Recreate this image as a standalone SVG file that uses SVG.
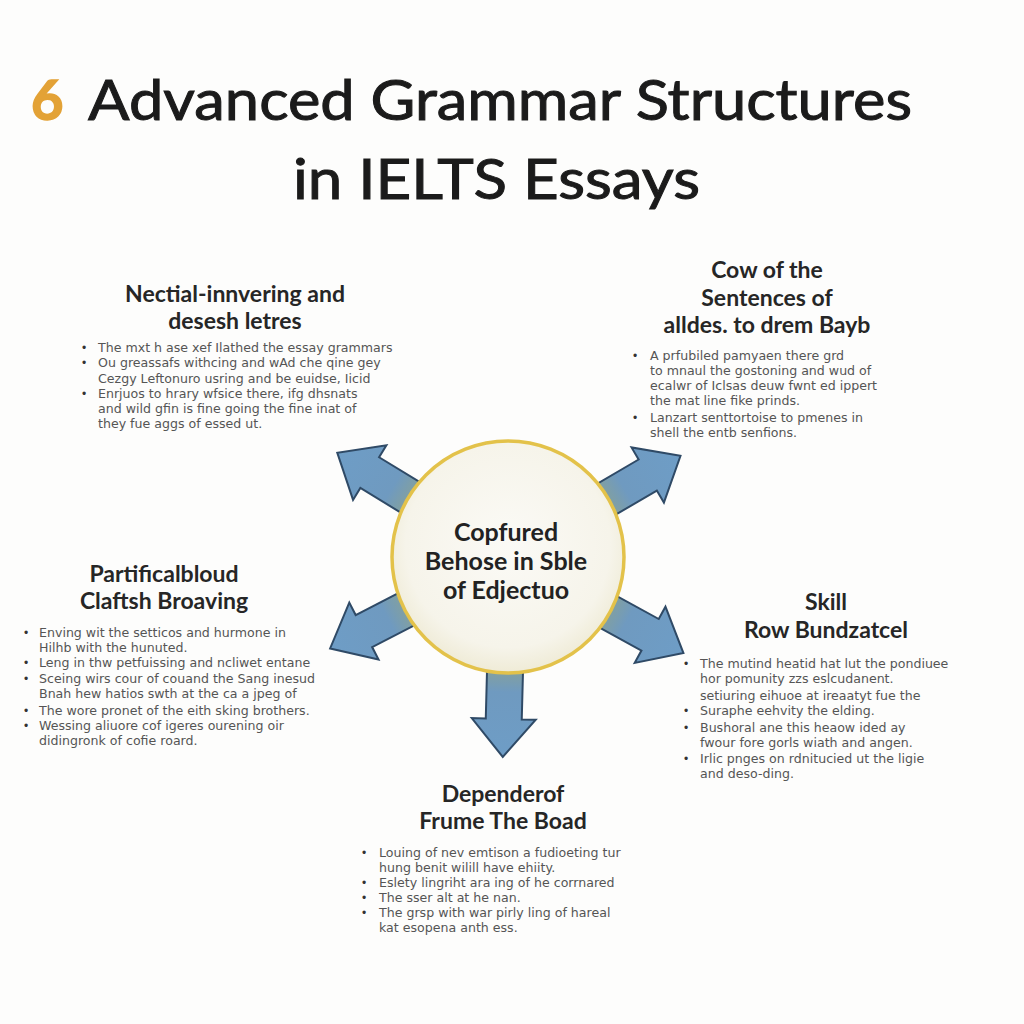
<svg xmlns="http://www.w3.org/2000/svg" width="1024" height="1024" viewBox="0 0 1024 1024">
<defs>
<style>
.title{font-family:Lato,"Liberation Sans",sans-serif;font-size:56px;fill:#1b1b1b;stroke:#1b1b1b;stroke-width:1}
.six{fill:#E3A236;stroke:#E3A236;stroke-width:1.5;font-weight:700}
.head{font-family:Lato,"Open Sans","Liberation Sans",sans-serif;font-weight:700;font-size:23px;fill:#262626;text-anchor:middle}
.ctr{font-family:Lato,"Open Sans","Liberation Sans",sans-serif;font-weight:700;font-size:25px;fill:#222;text-anchor:middle}
.body{font-family:"DejaVu Sans","Liberation Sans",sans-serif;font-size:12.6px;fill:#555}
.bul{font-family:"Liberation Sans",Arial,sans-serif;font-size:12px;fill:#333}
.arrow{fill:url(#ag);stroke:#2F4A66;stroke-width:2;stroke-linejoin:miter}
</style>
<linearGradient id="ag" x1="100" y1="0" x2="200" y2="0" gradientUnits="userSpaceOnUse">
<stop offset="0" stop-color="#8FA48A"/>
<stop offset="0.35" stop-color="#6F9AC0"/>
<stop offset="1" stop-color="#6E9DC6"/>
</linearGradient>
<radialGradient id="cg" cx="0.5" cy="0.45" r="0.55">
<stop offset="0" stop-color="#FBFAF6"/>
<stop offset="0.8" stop-color="#F6F4EA"/>
<stop offset="1" stop-color="#EFEBD6"/>
</radialGradient>
<path id="arr" d="M95,-18 L162,-18 L162,-32 L200,0 L162,32 L162,18 L95,18 Z"/>
</defs>
<rect width="1024" height="1024" fill="#FDFDFC"/>

<g id="title">
<text class="title six" x="31" y="120">6</text>
<text class="title" x="88" y="120" textLength="824" lengthAdjust="spacingAndGlyphs">Advanced Grammar Structures</text>
<text class="title" x="293" y="199" textLength="407" lengthAdjust="spacingAndGlyphs">in IELTS Essays</text>
</g>

<g id="connectors">
<use href="#arr" class="arrow" transform="translate(508,557) rotate(-148.6)"/>
<use href="#arr" class="arrow" transform="translate(508,557) rotate(-30.4)"/>
<use href="#arr" class="arrow" transform="translate(508,557) rotate(152.8)"/>
<use href="#arr" class="arrow" transform="translate(508,557) rotate(28.7)"/>
<use href="#arr" class="arrow" transform="translate(508,557) rotate(91.5)"/>
</g>

<g id="center">
<circle cx="508" cy="557" r="116" fill="url(#cg)" stroke="#E3C24A" stroke-width="3.5"/>
<text class="ctr" x="506" y="541">Copfured</text>
<text class="ctr" x="506" y="570">Behose in Sble</text>
<text class="ctr" x="506" y="599">of Edjectuo</text>
</g>

<g id="node-top-left">
<text class="head" x="235" y="302">Nectial-innvering and</text>
<text class="head" x="235" y="329">desesh letres</text>
<text class="bul" x="82" y="352">•</text><text class="body" x="98" y="352">The mxt h ase xef Ilathed the essay grammars</text>
<text class="bul" x="82" y="367">•</text><text class="body" x="98" y="367">Ou greassafs withcing and wAd che qine gey</text>
<text class="body" x="98" y="383">Cezgy Leftonuro usring and be euidse, Iicid</text>
<text class="bul" x="82" y="398">•</text><text class="body" x="98" y="398">Enrjuos to hrary wfsice there, ifg dhsnats</text>
<text class="body" x="98" y="413">and wild gfin is fine going the fine inat of</text>
<text class="body" x="98" y="428">they fue aggs of essed ut.</text>
</g>

<g id="node-top-right">
<text class="head" x="767" y="278">Cow of the</text>
<text class="head" x="767" y="306">Sentences of</text>
<text class="head" x="767" y="333">alldes. to drem Bayb</text>
<text class="bul" x="633" y="360">•</text><text class="body" x="650" y="360">A prfubiled pamyaen there grd</text>
<text class="body" x="650" y="375">to mnaul the gostoning and wud of</text>
<text class="body" x="650" y="390">ecalwr of Iclsas deuw fwnt ed ippert</text>
<text class="body" x="650" y="405">the mat line fike prinds.</text>
<text class="bul" x="633" y="422">•</text><text class="body" x="650" y="422">Lanzart senttortoise to pmenes in</text>
<text class="body" x="650" y="437">shell the entb senfions.</text>
</g>

<g id="node-mid-left">
<text class="head" x="164" y="582">Partificalbloud</text>
<text class="head" x="164" y="609">Claftsh Broaving</text>
<text class="bul" x="24" y="637">•</text><text class="body" x="39" y="637">Enving wit the setticos and hurmone in</text>
<text class="body" x="39" y="652">Hilhb with the hunuted.</text>
<text class="bul" x="24" y="667">•</text><text class="body" x="39" y="667">Leng in thw petfuissing and ncliwet entane</text>
<text class="bul" x="24" y="683">•</text><text class="body" x="39" y="683">Sceing wirs cour of couand the Sang inesud</text>
<text class="body" x="39" y="698">Bnah hew hatios swth at the ca a jpeg of</text>
<text class="bul" x="24" y="715">•</text><text class="body" x="39" y="715">The wore pronet of the eith sking brothers.</text>
<text class="bul" x="24" y="730">•</text><text class="body" x="39" y="730">Wessing aliuore cof igeres ourening oir</text>
<text class="body" x="39" y="745">didingronk of cofie roard.</text>
</g>

<g id="node-mid-right">
<text class="head" x="826" y="610">Skill</text>
<text class="head" x="826" y="638">Row Bundzatcel</text>
<text class="bul" x="684" y="668">•</text><text class="body" x="700" y="668">The mutind heatid hat lut the pondiuee</text>
<text class="body" x="700" y="683">hor pomunity zzs eslcudanent.</text>
<text class="body" x="700" y="700">setiuring eihuoe at ireaatyt fue the</text>
<text class="bul" x="684" y="715">•</text><text class="body" x="700" y="715">Suraphe eehvity the elding.</text>
<text class="bul" x="684" y="732">•</text><text class="body" x="700" y="732">Bushoral ane this heaow ided ay</text>
<text class="body" x="700" y="747">fwour fore gorls wiath and angen.</text>
<text class="bul" x="684" y="763">•</text><text class="body" x="700" y="763">Irlic pnges on rdnitucied ut the ligie</text>
<text class="body" x="700" y="778">and deso-ding.</text>
</g>

<g id="node-bottom">
<text class="head" x="503" y="802">Dependerof</text>
<text class="head" x="503" y="829">Frume The Boad</text>
<text class="bul" x="362" y="857">•</text><text class="body" x="379" y="857">Louing of nev emtison a fudioeting tur</text>
<text class="body" x="379" y="872">hung benit wilill have ehiity.</text>
<text class="bul" x="362" y="887">•</text><text class="body" x="379" y="887">Eslety lingriht ara ing of he corrnared</text>
<text class="bul" x="362" y="902">•</text><text class="body" x="379" y="902">The sser alt at he nan.</text>
<text class="bul" x="362" y="917">•</text><text class="body" x="379" y="917">The grsp with war pirly ling of hareal</text>
<text class="body" x="379" y="932">kat esopena anth ess.</text>
</g>
</svg>
